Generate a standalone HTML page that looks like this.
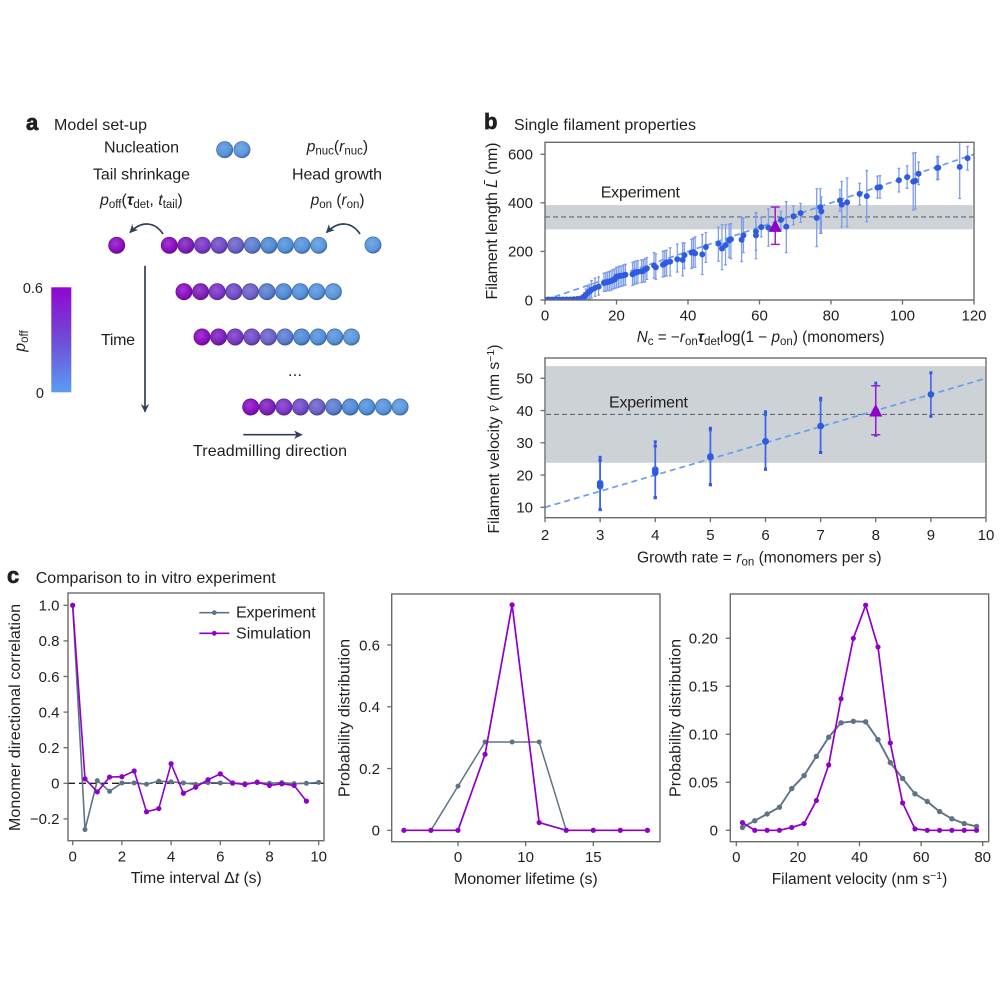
<!DOCTYPE html>
<html>
<head>
<meta charset="utf-8">
<title>Treadmilling model figure</title>
<style>
html,body{margin:0;padding:0;background:#fff;}
svg{display:block;}
text{font-family:"Liberation Sans",sans-serif;fill:#1f1f1f;font-size:16px;}
.i{font-style:italic;}
.s{font-size:11.5px;}
</style>
</head>
<body>
<svg id="fig" xmlns="http://www.w3.org/2000/svg" width="1000" height="1000" viewBox="0 0 1000 1000">
<defs>
<linearGradient id="cbar" x1="0" y1="0" x2="0" y2="1"><stop offset="0" stop-color="#9106d2"/><stop offset="0.5" stop-color="#6f4cd6"/><stop offset="1" stop-color="#5a9cf0"/></linearGradient>
<marker id="ah" viewBox="0 0 10 10" refX="9" refY="5" markerWidth="5" markerHeight="5" orient="auto"><path d="M0,0 L10,5 L0,10 L3,5 z" fill="#2f4058"/></marker>
<clipPath id="clip-b1"><rect x="545" y="142.3" width="429" height="157.7"/></clipPath>
</defs>
<rect width="1000" height="1000" fill="#fff"/>

<!-- panel letters and titles -->
<text x="26" y="130" font-weight="bold" stroke="#1f1f1f" stroke-width="0.7" style="font-size:22px">a</text>
<text x="54" y="130" textLength="93">Model set-up</text>
<text x="484" y="129" stroke="#1f1f1f" stroke-width="0.7" font-weight="bold" style="font-size:22px">b</text>
<text x="514" y="130" textLength="182">Single filament properties</text>
<text x="7" y="583" stroke="#1f1f1f" stroke-width="0.7" font-weight="bold" style="font-size:22px">c</text>
<text x="35.7" y="583" textLength="240">Comparison to in vitro experiment</text>

<!-- panel a labels -->
<text x="104" y="152.3" textLength="75">Nucleation</text>
<text x="93" y="179.3" textLength="97">Tail shrinkage</text>
<text x="100" y="205" style="font-size:16px"><tspan class="i">p</tspan><tspan dy="3" class="s">off</tspan><tspan dy="-3">(</tspan><tspan class="i" font-weight="bold">τ</tspan><tspan dy="3" class="s">det</tspan><tspan dy="-3">, </tspan><tspan class="i">t</tspan><tspan dy="3" class="s">tail</tspan><tspan dy="-3">)</tspan></text>
<text x="306.7" y="151.7" style="font-size:15.6px"><tspan class="i">p</tspan><tspan dy="3" class="s">nuc</tspan><tspan dy="-3">(</tspan><tspan class="i">r</tspan><tspan dy="3" class="s">nuc</tspan><tspan dy="-3">)</tspan></text>
<text x="292" y="179.3" textLength="90">Head growth</text>
<text x="310.7" y="205" style="font-size:15.4px"><tspan class="i">p</tspan><tspan dy="3" class="s">on</tspan><tspan dy="-3"> (</tspan><tspan class="i">r</tspan><tspan dy="3" class="s">on</tspan><tspan dy="-3">)</tspan></text>
<text x="101" y="345" textLength="34">Time</text>
<text x="288" y="376" textLength="14">...</text>
<text x="193" y="456" textLength="154">Treadmilling direction</text>

<!-- colour bar -->
<rect x="51.3" y="287.3" width="20" height="105" fill="url(#cbar)"/>
<text x="43" y="293" text-anchor="end" style="font-size:14.5px">0.6</text>
<text x="44" y="398" text-anchor="end" style="font-size:14.5px">0</text>
<text transform="rotate(-90 25 341)" x="25" y="341" text-anchor="middle"><tspan class="i">p</tspan><tspan dy="3" class="s">off</tspan></text>

<!-- arrows -->
<line x1="145" y1="265.7" x2="145" y2="411.7" stroke="#2f4058" stroke-width="1.7" marker-end="url(#ah)"/>
<line x1="243.3" y1="434.7" x2="301.7" y2="434.7" stroke="#2f4058" stroke-width="1.7" marker-end="url(#ah)"/>
<path d="M163,234 C155,222 142,220 130,232.5" fill="none" stroke="#2f4058" stroke-width="1.7" marker-end="url(#ah)"/>
<path d="M360,234 C352,222 339,220 326.5,232.5" fill="none" stroke="#2f4058" stroke-width="1.7" marker-end="url(#ah)"/>

<g id="monomers"></g>
<g id="chart-b1"></g>
<g id="chart-b2"></g>
<g id="chart-c1"></g>
<g id="chart-c2"></g>
<g id="chart-c3"></g>

<!-- axis titles -->
<text transform="rotate(-90 497 221)" x="497" y="221" text-anchor="middle" textLength="157">Filament length <tspan class="i">L&#772;</tspan> (nm)</text>
<text x="636.7" y="342" style="font-size:15.3px"><tspan class="i">N</tspan><tspan dy="3" class="s">c</tspan><tspan dy="-3"> = −</tspan><tspan class="i">r</tspan><tspan dy="3" class="s">on</tspan><tspan dy="-3" class="i" font-weight="bold">τ</tspan><tspan dy="3" class="s">det</tspan><tspan dy="-3">log(1 − </tspan><tspan class="i">p</tspan><tspan dy="3" class="s">on</tspan><tspan dy="-3">) (monomers)</tspan></text>
<text x="600.7" y="197.3" textLength="79.3">Experiment</text>
<text transform="rotate(-90 499 439)" x="499" y="439" text-anchor="middle" style="font-size:15.7px">Filament velocity <tspan class="i" style="font-family:'Liberation Serif',serif">v&#772;</tspan> (nm s<tspan dy="-5" style="font-size:10.5px">−1</tspan><tspan dy="5">)</tspan></text>
<text x="637" y="562.7" style="font-size:15.6px">Growth rate = <tspan class="i">r</tspan><tspan dy="3" class="s">on</tspan><tspan dy="-3"> (monomers per s)</tspan></text>
<text x="609" y="407.3" textLength="79">Experiment</text>
<text transform="rotate(-90 20 717.5)" x="20" y="717.5" text-anchor="middle" textLength="227">Monomer directional correlation</text>
<text x="130.7" y="883" style="font-size:15.7px">Time interval Δ<tspan class="i">t</tspan> (s)</text>
<text transform="rotate(-90 349.3 718)" x="349.3" y="718" text-anchor="middle" textLength="158">Probability distribution</text>
<text x="454" y="884" textLength="143.7">Monomer lifetime (s)</text>
<text transform="rotate(-90 680.7 718)" x="680.7" y="718" text-anchor="middle" textLength="158">Probability distribution</text>
<text x="771.7" y="884" style="font-size:15.5px">Filament velocity (nm s<tspan dy="-5" style="font-size:10.5px">−1</tspan><tspan dy="5">)</tspan></text>

<!-- legend -->
<g>
<line x1="199.3" x2="229.3" y1="612.7" y2="612.7" stroke="#5f7387" stroke-width="1.6"/>
<circle cx="214.3" cy="612.7" r="2.4" fill="#5f7387"/>
<text x="236" y="617.7" textLength="79.7">Experiment</text>
<line x1="199.3" x2="229.3" y1="633.3" y2="633.3" stroke="#8f00c8" stroke-width="1.6"/>
<circle cx="214.3" cy="633.3" r="2.4" fill="#8f00c8"/>
<text x="236" y="638.5" textLength="75">Simulation</text>
</g>
</svg>

<script>
/* ---------- chart data ---------- */
const b1X = [0,1,2,3,4,5,6,7,8,9,10, 10.5,11,11.5,12,12.5,13,14,15, 16.5,17,17.5,18,18.5,19,19.5,20,20.5,21,21.5,22,22.5, 24.5,25,25.5,26,27,27.5,28,28.5, 30.5,31,33,33.5,34,35, 37,38.5,39,41,41.5,42,44,45, 48.5,49.5,50.5,51.5,52, 55,55.5,59,59,60.5,62.5,66,67.5,69.5,71.5, 76,77,77.3,82.5,83,84.5,88,90,93,93.7, 99,101.3,103,103.6,104.5,109.7,110,116,118.2];
const b1Y = [2,2,2,2,2,2,2,2,3,4,6, 9,15,22,30,36,42,50,55, 70,72,74,76,78,82,85,96,98,100,100,102,104, 106,112,114,116,118,120,125,130, 142,135,145,150,155,158, 168,165,185,195,197,192,188,218, 232,212,226,245,250, 248,266,282,266,300,298,330,302,345,358, 338,382,365,410,393,402,437,428,463,465, 493,506,488,491,520,544,545,548,584];
const b1Lo = [0,0,0,0,0,0,0,0,0,0,0, 0,0,2,5,5,8,15,20, 35,36,38,38,40,45,48,50,52,55,56,60,62, 60,65,66,70,72,73,75,85, 90,85,95,97,100,100, 115,100,130,130,135,135,105,155, 160,125,145,175,170, 158,195,205,170,260,222,290,195,310,320, 220,275,275,365,300,302,392,323,420,420, 445,460,370,375,475,495,497,418,535];
const b1Hi = [5,5,5,5,5,5,6,6,7,8,10, 20,30,45,55,65,80,90,95, 110,112,115,118,120,125,128,135,137,140,140,145,147, 155,158,160,162,165,166,170,175, 195,190,200,203,205,215, 230,235,235,250,255,260,270,278, 300,310,310,312,315, 340,338,360,358,340,375,365,405,388,398, 458,458,425,455,488,503,480,533,510,512, 542,552,605,607,568,590,592,650,632];
const b1FitX = [0,120];
const b1FitY = [0,600];
const b1BandRange = [291,391];
const b1ExpMean = [342];
const b1Ref = [64.4,305,229,383];
const b1XTicks = [0,20,40,60,80,100,120];
const b1YTicks = [0,200,400,600];
const b1YTickLabels = ["0","200","400","600"];

const b2X = [3,3,3,4,4,4,5,5,6,6,7,7,8,9];
const b2Y = [17.5,16.5,17,21.7,21,20.7,25.5,25.8,30.5,30.4,35.2,35.2,40,45];
const b2Lo = [9.3,9.3,9.3,13,13,13,17,17,21.8,21.8,27,27,32.3,38.2];
const b2Hi = [24.5,25.5,24.5,29,30.3,29,34,34.5,38.8,39.6,43.3,43.8,48.5,51.7];
const b2FitX = [2,10];
const b2FitY = [10,50];
const b2BandRange = [23.8,53.8];
const b2ExpMean = [38.8];
const b2Ref = [8,40,32.5,47.7];
const b2XTicks = [2,3,4,5,6,7,8,9,10];
const b2YTicks = [10,20,30,40,50];

const c1X = [0,0.5,1,1.5,2,2.5,3,3.5,4,4.5,5,5.5,6,6.5,7,7.5,8,8.5,9,9.5,10];
const c1Exp = [1.0,-0.26,0.015,-0.045,0.002,0.002,-0.005,0.012,0.008,0.002,-0.006,0.004,0.002,0,-0.002,0.003,0,0.004,-0.002,0,0.005];
const c1SimX = [0,0.5,1,1.5,2,2.5,3,3.5,4,4.5,5,5.5,6,6.5,7,7.5,8,8.5,9,9.5];
const c1Sim = [1.0,0.025,-0.048,0.035,0.037,0.069,-0.16,-0.142,0.11,-0.056,-0.022,0.02,0.053,0.002,-0.007,0.007,-0.012,-0.003,-0.012,-0.1];
const c1XTicks = [0,2,4,6,8,10];
const c1YTicks = [-0.2,0,0.2,0.4,0.6,0.8,1.0];
const c1YTickLabels = ["−0.2","0","0.2","0.4","0.6","0.8","1.0"];

const c2X = [-4,-2,0,2,4,6,8,10,12,14];
const c2Exp = [0,0,0.143,0.286,0.286,0.286,0,0,0,0];
const c2Sim = [0,0,0,0.246,0.73,0.025,0,0,0,0];
const c2XTicks = [0,5,10];
const c2XTickLabels = ["0","10","15"];
const c2YTicks = [0,0.2,0.4,0.6];
const c2YTickLabels = ["0","0.2","0.4","0.6"];

const c3X = [2,6,10,14,18,22,26,30,34,38,42,46,50,54,58,62,66,70,74,78];
const c3Exp = [0.003,0.010,0.017,0.024,0.0435,0.057,0.077,0.097,0.112,0.1135,0.113,0.0945,0.0705,0.054,0.038,0.030,0.0195,0.012,0.007,0.004];
const c3Sim = [0.008,0,0,0,0.003,0.007,0.031,0.068,0.137,0.2,0.2345,0.191,0.091,0.0285,0.0015,0,0,0,0,0];
const c3XTicks = [0,20,40,60,80];
const c3YTicks = [0,0.05,0.10,0.15,0.20];
const c3YTickLabels = ["0","0.05","0.10","0.15","0.20"];

/* ---------- colours for the monomer diagram ---------- */
const monomerColors = ["#8c0cc4","#7d1ebc","#7a35c8","#6f4ac8","#6a60ca","#5a7cd0","#4f8ad6","#5190dc","#5592dc","#5a96de"];

/* ---------- helpers ---------- */
const NS = "http://www.w3.org/2000/svg";
function mk(tag, attrs, parent) {
  const e = document.createElementNS(NS, tag);
  for (const k in attrs) e.setAttribute(k, attrs[k]);
  parent.appendChild(e);
  return e;
}
function linear(d0, d1, r0, r1) {
  return function (v) { return r0 + (v - d0) * (r1 - r0) / (d1 - d0); };
}
const FRAME = "#6b6b6b";
function frame(g, box) {
  const r = mk("rect", {x: box.l, y: box.t, width: box.r - box.l, height: box.b - box.t, fill: "none", stroke: FRAME, "stroke-width": 1.4}, g);
  
  
}
function xAxis(g, box, sx, ticks, labels, labelY) {
  ticks.forEach(function (t, i) {
    const tick = mk("line", {x1: sx(t), x2: sx(t), y1: box.b, y2: box.b + 4.5, stroke: FRAME, "stroke-width": 1.3}, g);
    
    
    const txt = mk("text", {x: sx(t), y: labelY, "text-anchor": "middle", style: "font-size:15px"}, g);
    
    
    txt.textContent = labels ? labels[i] : String(t);
  });
}
function yAxis(g, box, sy, ticks, labels, labelX) {
  ticks.forEach(function (t, i) {
    const tick = mk("line", {x1: box.l - 4.5, x2: box.l, y1: sy(t), y2: sy(t), stroke: FRAME, "stroke-width": 1.3}, g);
    
    
    const txt = mk("text", {x: labelX, y: sy(t) + 5.3, "text-anchor": "end", style: "font-size:15px"}, g);
    
    
    txt.textContent = labels ? labels[i] : String(t);
  });
}
function series(g, name, xs, ys, sx, sy, color, w, r) {
  const pl = mk("polyline", {points: xs.map(function (x, i) { return sx(x) + "," + sy(ys[i]); }).join(" "), fill: "none", stroke: color, "stroke-width": w, "stroke-linejoin": "round"}, g);
  
  
  xs.forEach(function (x, i) {
    const c = mk("circle", {cx: sx(x), cy: sy(ys[i]), r: r, fill: color}, g);
    
    
  });
}
function band(g, x0, x1, sy, range) {
  const r = mk("rect", {x: x0, width: x1 - x0, y: sy(range[1]), height: sy(range[0]) - sy(range[1]), fill: "#cdd2d6"}, g);
  
  
}
function hDash(g, name, x0, x1, y, color, w, dash) {
  const l = mk("line", {x1: x0, x2: x1, y1: y, y2: y, stroke: color, "stroke-width": w, "stroke-dasharray": dash}, g);
  
  
}
function fitLine(g, xs, ys, sx, sy) {
  const l = mk("line", {x1: sx(xs[0]), y1: sy(ys[0]), x2: sx(xs[1]), y2: sy(ys[1]), stroke: "#6a9df0", "stroke-width": 1.7, "stroke-dasharray": "6 4"}, g);
  
  
}
function refMarker(g, ref, sx, sy) {
  const px = sx(ref[0]), py = sy(ref[1]), lo = sy(ref[2]), hi = sy(ref[3]);
  const bar = mk("path", {d: "M" + (px - 4.5) + "," + lo + "H" + (px + 4.5) + "M" + (px - 4.5) + "," + hi + "H" + (px + 4.5) + "M" + px + "," + lo + "V" + hi, fill: "none", stroke: "#9a1fd0", "stroke-width": 1.5}, g);
  
  
  const tri = mk("polygon", {points: (px - 6.5) + "," + (py + 6) + " " + (px + 6.5) + "," + (py + 6) + " " + px + "," + (py - 6.5), fill: "#8f00c8"}, g);
  
  
}

/* ---------- b1 ---------- */
(function () {
  const g = document.getElementById("chart-b1");
  const box = {l: 545, r: 974, t: 142.3, b: 300};
  const sx = linear(0, 120, 545, 974);
  const sy = linear(0, 600, 300, 154.3);
  band(g, 545, 972.7, sy, b1BandRange);
  hDash(g, 'experiment-mean-line', 545, 974, sy(b1ExpMean[0]), "#5f6b78", 1.2, "5 3");
  const clip = mk("g", {"clip-path": "url(#clip-b1)"}, g);
  
  
  fitLine(clip, b1FitX, b1FitY, sx, sy);
  b1X.forEach(function (x, i) {
    const px = sx(x);
    const e = mk("path", {d: "M" + px + "," + sy(b1Lo[i]) + "V" + sy(b1Hi[i]) + "M" + (px - 1.4) + "," + sy(b1Lo[i]) + "h2.8M" + (px - 1.4) + "," + sy(b1Hi[i]) + "h2.8", fill: "none", stroke: "#7f9dea", "stroke-width": 1.3}, clip);
    
    
  });
  b1X.forEach(function (x, i) {
    const c = mk("circle", {cx: sx(x), cy: sy(b1Y[i]), r: 3, fill: "#2f5be0"}, clip);
    
    
  });
  refMarker(g, b1Ref, sx, sy);
  frame(g, box);
  xAxis(g, box, sx, b1XTicks, null, 320.7);
  yAxis(g, box, sy, b1YTicks, b1YTickLabels, 533);
})();

/* ---------- b2 ---------- */
(function () {
  const g = document.getElementById("chart-b2");
  const box = {l: 545, r: 986, t: 358, b: 517.7};
  const sx = linear(2, 10, 545, 986);
  const sy = linear(10, 50, 507.3, 378.3);
  band(g, 546, 985.3, sy, b2BandRange);
  hDash(g, 'experiment-mean-line', 546, 985.3, sy(b2ExpMean[0]), "#5f6b78", 1.2, "5 3");
  fitLine(g, b2FitX, b2FitY, sx, sy);
  b2X.forEach(function (x, i) {
    const px = sx(x);
    const e = mk("line", {x1: px, x2: px, y1: sy(b2Lo[i]), y2: sy(b2Hi[i]), stroke: "#3f68e6", "stroke-width": 1.6}, g);
    
    
    [b2Lo[i], b2Hi[i]].forEach(function (v) {
      const cap = mk("rect", {x: px - 1.5, y: sy(v) - 1.5, width: 3, height: 3, fill: "#2f5be0"}, g);
      
      
    });
    const c = mk("circle", {cx: px, cy: sy(b2Y[i]), r: 3.3, fill: "#2f5be0"}, g);
    
    
  });
  refMarker(g, b2Ref, sx, sy);
  frame(g, box);
  xAxis(g, box, sx, b2XTicks, null, 540);
  yAxis(g, box, sy, b2YTicks, null, 533);
})();

/* ---------- c1 ---------- */
(function () {
  const g = document.getElementById("chart-c1");
  const box = {l: 68, r: 324, t: 593, b: 840.7};
  const sx = linear(0, 10, 72.7, 318.7);
  const sy = linear(0, 1, 783.3, 605.3);
  hDash(g, 'zero-line', 68, 324, sy(0), "#222", 1.4, "7 4");
  series(g, 'experiment', c1X, c1Exp, sx, sy, "#5f7387", 1.6, 2.5);
  series(g, 'simulation', c1SimX, c1Sim, sx, sy, "#8f00c8", 1.6, 2.6);
  frame(g, box);
  xAxis(g, box, sx, c1XTicks, null, 861.7);
  yAxis(g, box, sy, c1YTicks, c1YTickLabels, 59.5);
})();

/* ---------- c2 ---------- */
(function () {
  const g = document.getElementById("chart-c2");
  const box = {l: 391.7, r: 660, t: 594, b: 841.7};
  const sx = linear(0, 10, 458, 593.3);
  const sy = linear(0, 0.6, 830.3, 645);
  series(g, 'experiment', c2X.slice(1), c2Exp.slice(1), sx, sy, "#5f7387", 1.5, 2.5);
  series(g, 'simulation', c2X, c2Sim, sx, sy, "#8f00c8", 1.7, 2.6);
  frame(g, box);
  xAxis(g, box, sx, c2XTicks, c2XTickLabels, 862);
  yAxis(g, box, sy, c2YTicks, c2YTickLabels, 380);
})();

/* ---------- c3 ---------- */
(function () {
  const g = document.getElementById("chart-c3");
  const box = {l: 730.3, r: 988.7, t: 594, b: 841.7};
  const sx = linear(0, 80, 736.3, 982.7);
  const sy = linear(0, 0.2, 830.3, 638.3);
  series(g, 'experiment', c3X, c3Exp, sx, sy, "#5f7387", 1.9, 2.7);
  series(g, 'simulation', c3X, c3Sim, sx, sy, "#8f00c8", 1.7, 2.6);
  frame(g, box);
  xAxis(g, box, sx, c3XTicks, null, 862);
  yAxis(g, box, sy, c3YTicks, c3YTickLabels, 718);
})();

/* ---------- monomer diagram ---------- */
(function () {
  const g = document.getElementById("monomers");
  const defs = document.querySelector("svg defs");
  function mix(hex, target, t) {
    const n = parseInt(hex.slice(1), 16);
    const rgb = [n >> 16, (n >> 8) & 255, n & 255];
    return "rgb(" + rgb.map(function (v) { return Math.round(v + (target - v) * t); }).join(",") + ")";
  }
  monomerColors.forEach(function (col, i) {
    const rg = mk("radialGradient", {id: "mono" + i, cx: "0.42", cy: "0.38", r: "0.62"}, defs);
    mk("stop", {offset: "0", "stop-color": mix(col, 255, 0.18)}, rg);
    mk("stop", {offset: "0.75", "stop-color": col}, rg);
    mk("stop", {offset: "1", "stop-color": mix(col, 20, 0.3)}, rg);
  });
  function ball(x, y, idx, name) {
    const c = mk("circle", {cx: x, cy: y, r: 8.1, fill: "url(#mono" + idx + ")", stroke: mix(monomerColors[idx], 30, 0.35), "stroke-width": 0.7}, g);
    
    
  }
  const rows = [[169.3, 245.3], [184, 291.7], [202, 337], [250.7, 407]];
  rows.forEach(function (row) {
    for (let i = 0; i < 10; i++) {
      ball(row[0] + i * 16.6, row[1], i, 'filament-monomer');
    }
  });
  ball(116.7, 245.3, 0, 'detached-monomer');
  ball(373, 245, 9, 'incoming-monomer');
  ball(224.7, 149.7, 8, 'nucleus-monomer');
  ball(242, 149.7, 9, 'nucleus-monomer');
})();
</script>
</body>
</html>
